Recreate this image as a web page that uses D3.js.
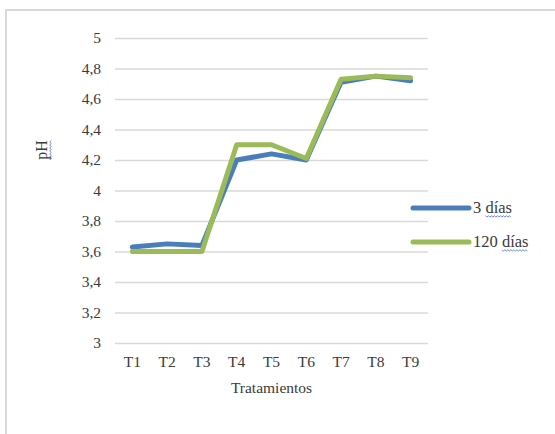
<!DOCTYPE html>
<html>
<head>
<meta charset="utf-8">
<script src="https://cdn.jsdelivr.net/npm/d3@7"></script>
<style>
  html, body { margin: 0; padding: 0; background: #fff; }
  svg { display: block; }
  text { font-family: "Liberation Serif", "Times New Roman", serif; fill: #3a3a3a; }
</style>
</head>
<body>
<svg id="chart" width="555" height="434"></svg>
<script>
// Tratamientos and pH readings for each storage time
const categories = ["T1", "T2", "T3", "T4", "T5", "T6", "T7", "T8", "T9"];
const dias3 = [3.63, 3.65, 3.64, 4.20, 4.24, 4.20, 4.71, 4.75, 4.72];
const dias120 = [3.60, 3.60, 3.60, 4.30, 4.30, 4.21, 4.73, 4.75, 4.74];
const yTicks = [3, 3.2, 3.4, 3.6, 3.8, 4, 4.2, 4.4, 4.6, 4.8, 5];
const seriesNames = ["3 días", "120 días"];
const seriesColors = ["#4a7ebb", "#9bbb59"];

const svg = d3.select("#chart");
const FONT = "Liberation Serif, Times New Roman, serif";
const TXT = "#3a3a3a";

// outer chart frame
svg.append("rect")
  .attr("x", 6).attr("y", 10)
  .attr("width", 560).attr("height", 440)
  .attr("fill", "none").attr("stroke", "#d9d9d9").attr("stroke-width", 2);

const plot = { left: 115, right: 428, top: 38, bottom: 343 };

const x = d3.scaleBand().domain(categories).range([plot.left, plot.right]);
const y = d3.scaleLinear().domain([3, 5]).range([plot.bottom, plot.top]);

const fmt = v => d3.format("")(+v.toFixed(1)).replace(".", ",");

// horizontal gridlines
svg.append("g")
  .attr("transform", `translate(${plot.left},0)`)
  .call(d3.axisLeft(y).tickValues(yTicks).tickSize(-(plot.right - plot.left)).tickFormat(""))
  .call(g => g.select(".domain").remove())
  .call(g => g.selectAll("line").attr("stroke", "#d9d9d9").attr("stroke-width", 1.5));

// y tick labels
svg.append("g")
  .attr("transform", `translate(${plot.left - 14},0)`)
  .call(d3.axisLeft(y).tickValues(yTicks).tickSize(0).tickPadding(0).tickFormat(fmt))
  .call(g => g.select(".domain").remove())
  .call(g => g.selectAll("text")
    .attr("font-family", FONT).attr("font-size", 15.5).attr("fill", TXT));

// x tick labels
svg.append("g")
  .attr("transform", `translate(0,${plot.bottom + 10})`)
  .call(d3.axisBottom(x).tickSize(0).tickPadding(0))
  .call(g => g.select(".domain").remove())
  .call(g => g.selectAll("text")
    .attr("dy", "0.9em")
    .attr("font-family", FONT).attr("font-size", 15.5).attr("fill", TXT));

// axis titles
svg.append("text")
  .attr("x", (plot.left + plot.right) / 2).attr("y", 393)
  .attr("text-anchor", "middle").attr("font-size", 15.5)
  .text("Tratamientos");

const yTitle = svg.append("g").attr("transform", "translate(47,150) rotate(-90)");
yTitle.append("text")
  .attr("x", 0).attr("y", 0)
  .attr("text-anchor", "middle").attr("font-size", 16)
  .text("pH");

// proofing squiggle under a word
function squiggle(g, x0, x1, yy) {
  const pts = [];
  for (let px = x0, i = 0; px <= x1; px += 1.5, i++) pts.push([px, yy + (i % 2 ? 1 : -0.2)]);
  g.append("path").attr("d", d3.line()(pts))
    .attr("fill", "none").attr("stroke", "#4b6be0").attr("stroke-width", 0.8);
}
squiggle(yTitle, -10, 10, 3);

// series lines
const line = d3.line().x((d, i) => x(categories[i]) + x.bandwidth() / 2).y(d => y(d));
[dias3, dias120].forEach((vals, k) => {
  svg.append("path")
    .datum(vals)
    .attr("d", line)
    .attr("fill", "none")
    .attr("stroke", seriesColors[k])
    .attr("stroke-width", 5)
    .attr("stroke-linejoin", "round")
    .attr("stroke-linecap", "round");
});

// legend
const legendY = [208, 242];
seriesNames.forEach((name, k) => {
  const g = svg.append("g").attr("transform", `translate(0,${legendY[k]})`);
  g.append("line")
    .attr("x1", 413).attr("x2", 469).attr("y1", 0).attr("y2", 0)
    .attr("stroke", seriesColors[k]).attr("stroke-width", 5).attr("stroke-linecap", "round");
  const t = g.append("text")
    .attr("x", 473).attr("y", 5).attr("font-size", 16.5)
    .text(name);
  const full = t.node().getComputedTextLength();
  const tmp = g.append("text").attr("font-size", 16.5).text("días");
  const wordW = tmp.node().getComputedTextLength();
  tmp.remove();
  squiggle(g, 473 + full - wordW, 473 + full, 8);
});
</script>
</body>
</html>
